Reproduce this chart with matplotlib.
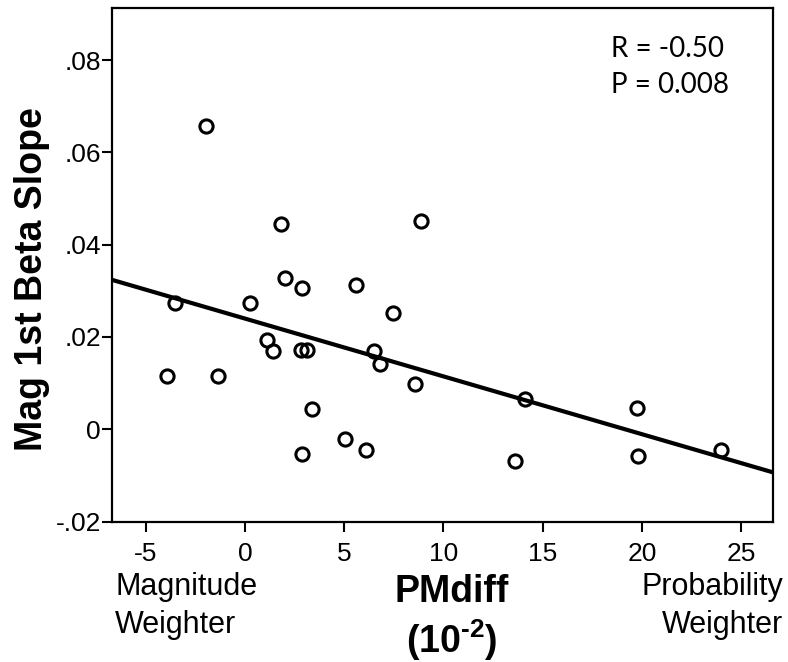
import numpy as np
import matplotlib
matplotlib.use('Agg')
import matplotlib.pyplot as plt

# データ (PMdiff x10^-2, Mag 1st Beta Slope)
pm_diff = [-3.93, -3.53, -1.96, -1.36, 0.27, 1.09, 1.43, 1.80, 2.02, 2.85,
           2.80, 3.10, 2.85, 3.38, 5.04, 5.59, 6.10, 6.50, 6.80, 7.48,
           8.56, 8.86, 13.60, 14.10, 19.75, 19.81, 23.98]
beta_slope = [0.0115, 0.0274, 0.0657, 0.0116, 0.0274, 0.0194, 0.0170, 0.0444, 0.0328, 0.0307,
              0.0171, 0.0171, -0.0053, 0.0043, -0.0022, 0.0312, -0.0045, 0.0169, 0.0141, 0.0252,
              0.0099, 0.0452, -0.0069, 0.0065, 0.0045, -0.0058, -0.0044]
x_ticks = [-5, 0, 5, 10, 15, 20, 25]
y_ticks = [-0.02, 0, 0.02, 0.04, 0.06, 0.08]
y_ticklabels = ['-.02', '0', '.02', '.04', '.06', '.08']
stats_text = 'R = -0.50\nP = 0.008'

plt.rcParams['font.family'] = ['Liberation Sans', 'DejaVu Sans']
plt.rcParams['axes.unicode_minus'] = False
plt.rcParams['mathtext.fontset'] = 'custom'
plt.rcParams['mathtext.rm'] = 'Liberation Sans'
plt.rcParams['mathtext.bf'] = 'Liberation Sans:bold'

fig = plt.figure(figsize=(7.88, 6.62), dpi=100)
ax = fig.add_axes([0.1421, 0.2122, 0.8389, 0.7758])

# 回帰直線
b, a = np.polyfit(pm_diff, beta_slope, 1)
xl = np.array([-6.7, 26.6])
ax.plot(xl, a + b * xl, color='black', lw=3.0, zorder=2)

ax.plot(pm_diff, beta_slope, linestyle='none', marker='o', markersize=9.5,
        markerfacecolor='none', markeredgecolor='black', markeredgewidth=2.2, zorder=3)

ax.set_xlim(-6.7, 26.6)
ax.set_ylim(-0.02, 0.0913)
ax.set_xticks(x_ticks)
ax.set_yticks(y_ticks)
ax.set_yticklabels(y_ticklabels)
ax.tick_params(axis='both', direction='out', length=7, width=1.5, labelsize=19)
ax.tick_params(axis='x', pad=8)
ax.tick_params(axis='y', pad=1)
for s in ax.spines.values():
    s.set_linewidth(1.6)

ax.set_ylabel('Mag 1st Beta Slope', fontsize=27, fontweight='bold')
ax.yaxis.set_label_coords(-0.093, 0.472)

ax.text(0.755, 0.945, stats_text, transform=ax.transAxes, ha='left', va='top',
        fontsize=20, family=['Lato', 'DejaVu Sans'], linespacing=1.45)

fig.text(115 / 788, 1 - 606 / 662, 'Magnitude\nWeighter', ha='left', va='center', fontsize=22,
         linespacing=1.35)
fig.text(783 / 788, 1 - 606 / 662, 'Probability\nWeighter', ha='right', va='center', fontsize=22,
         linespacing=1.35)
fig.text(452 / 788, 1 - 592 / 662, 'PMdiff', ha='center', va='center', fontsize=27, fontweight='bold')
fig.text(452 / 788, 1 - 640 / 662, '$\\mathbf{(10^{\u2010 2})}$', ha='center', va='center', fontsize=27)

fig.savefig('out.png', dpi=100)
